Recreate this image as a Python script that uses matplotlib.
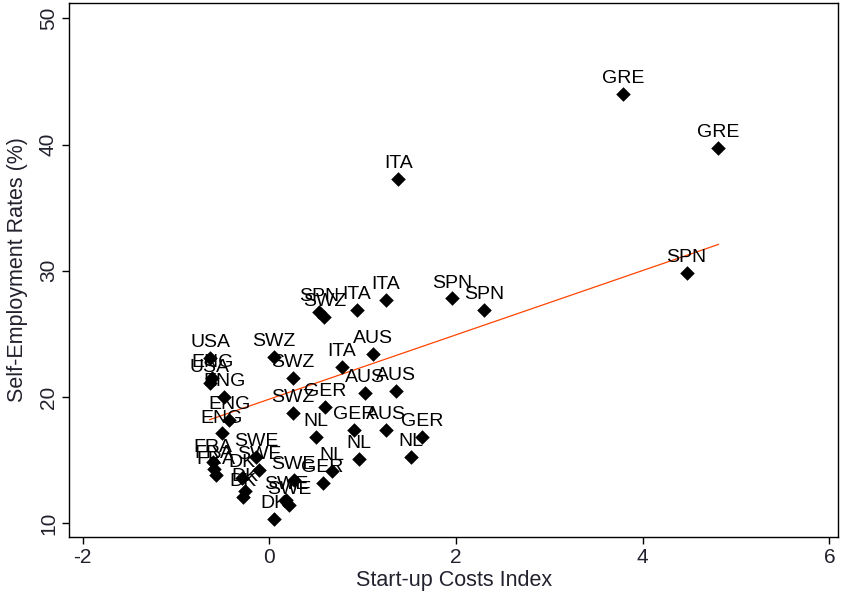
import numpy as np
import matplotlib
matplotlib.use("Agg")
import matplotlib.pyplot as plt

plt.rcParams['font.family'] = ['Liberation Sans', 'DejaVu Sans']

countries = ["GRE", "GRE", "ITA", "SPN", "SPN", "SPN", "ITA", "ITA", "SPN", "SWZ",
             "AUS", "ITA", "AUS", "AUS", "GER", "SWZ", "SWZ", "SWZ", "GER", "AUS",
             "NL", "GER", "NL", "NL", "NL", "GER", "USA", "USA", "ENG", "ENG",
             "ENG", "ENG", "FRA", "FRA", "FRA", "SWE", "SWE", "SWE", "DK", "DK",
             "DK", "SWE", "SWE", "DK"]
startup_costs = [3.79, 4.81, 1.38, 4.47, 1.96, 2.30, 1.25, 0.94, 0.53, 0.59,
                 1.11, 0.78, 1.03, 1.36, 0.60, 0.25, 0.05, 0.25, 0.91, 1.25,
                 0.50, 1.64, 1.52, 0.96, 0.67, 0.57, -0.63, -0.64, -0.61, -0.48,
                 -0.43, -0.51, -0.60, -0.59, -0.57, -0.14, -0.11, 0.26, -0.29, -0.28,
                 -0.26, 0.18, 0.21, 0.05]
self_employment = [44.0, 39.7, 37.3, 29.8, 27.8, 26.9, 27.7, 26.9, 26.7, 26.3,
                   23.4, 22.4, 20.3, 20.5, 19.2, 18.7, 23.2, 21.5, 17.4, 17.4,
                   16.8, 16.8, 15.2, 15.1, 14.1, 13.2, 23.1, 21.1, 21.5, 20.0,
                   18.2, 17.1, 14.8, 14.3, 13.8, 15.2, 14.2, 13.4, 13.6, 12.1,
                   12.5, 11.8, 11.4, 10.3]
# fitted line as shown in the figure
fit_intercept = 19.82
fit_slope = 2.55
x_ticks = [-2, 0, 2, 4, 6]
y_ticks = [10, 20, 30, 40, 50]

x = np.array(startup_costs)
y = np.array(self_employment)

fig = plt.figure(figsize=(8.42, 5.97), dpi=100)
ax = fig.add_axes([0.082, 0.1005, 0.9135, 0.8945])

txt_color = '#22222e'

ax.scatter(x, y, marker='D', s=55, color='black', zorder=3, linewidths=0)
for cx, cy, lab in zip(x, y, countries):
    ax.annotate(lab, (cx, cy), xytext=(0, 5), textcoords='offset points',
                ha='center', va='bottom', fontsize=14, color='black', zorder=4)

xs = np.array([x.min(), x.max()])
ax.plot(xs, fit_intercept + fit_slope * xs, color='#FF4500', lw=0.9, zorder=2)

ax.set_xlim(-2.145, 6.094)
ax.set_ylim(8.89, 51.23)
ax.set_xticks(x_ticks)
ax.set_yticks(y_ticks)
ax.set_xticklabels([str(t) for t in x_ticks])
ax.set_yticklabels([str(t) for t in y_ticks], rotation=90, va='center')
ax.tick_params(axis='both', direction='out', length=5, width=1, colors='black',
               labelsize=15, labelcolor=txt_color, pad=3)
for s in ax.spines.values():
    s.set_linewidth(1.0)
    s.set_color('black')

ax.set_xlabel('Start-up Costs Index', fontsize=15.5, color=txt_color, labelpad=2)
ax.set_ylabel('Self-Employment Rates (%)', fontsize=15.5, color=txt_color, labelpad=8)

fig.savefig('out.png', dpi=100, facecolor='white')
